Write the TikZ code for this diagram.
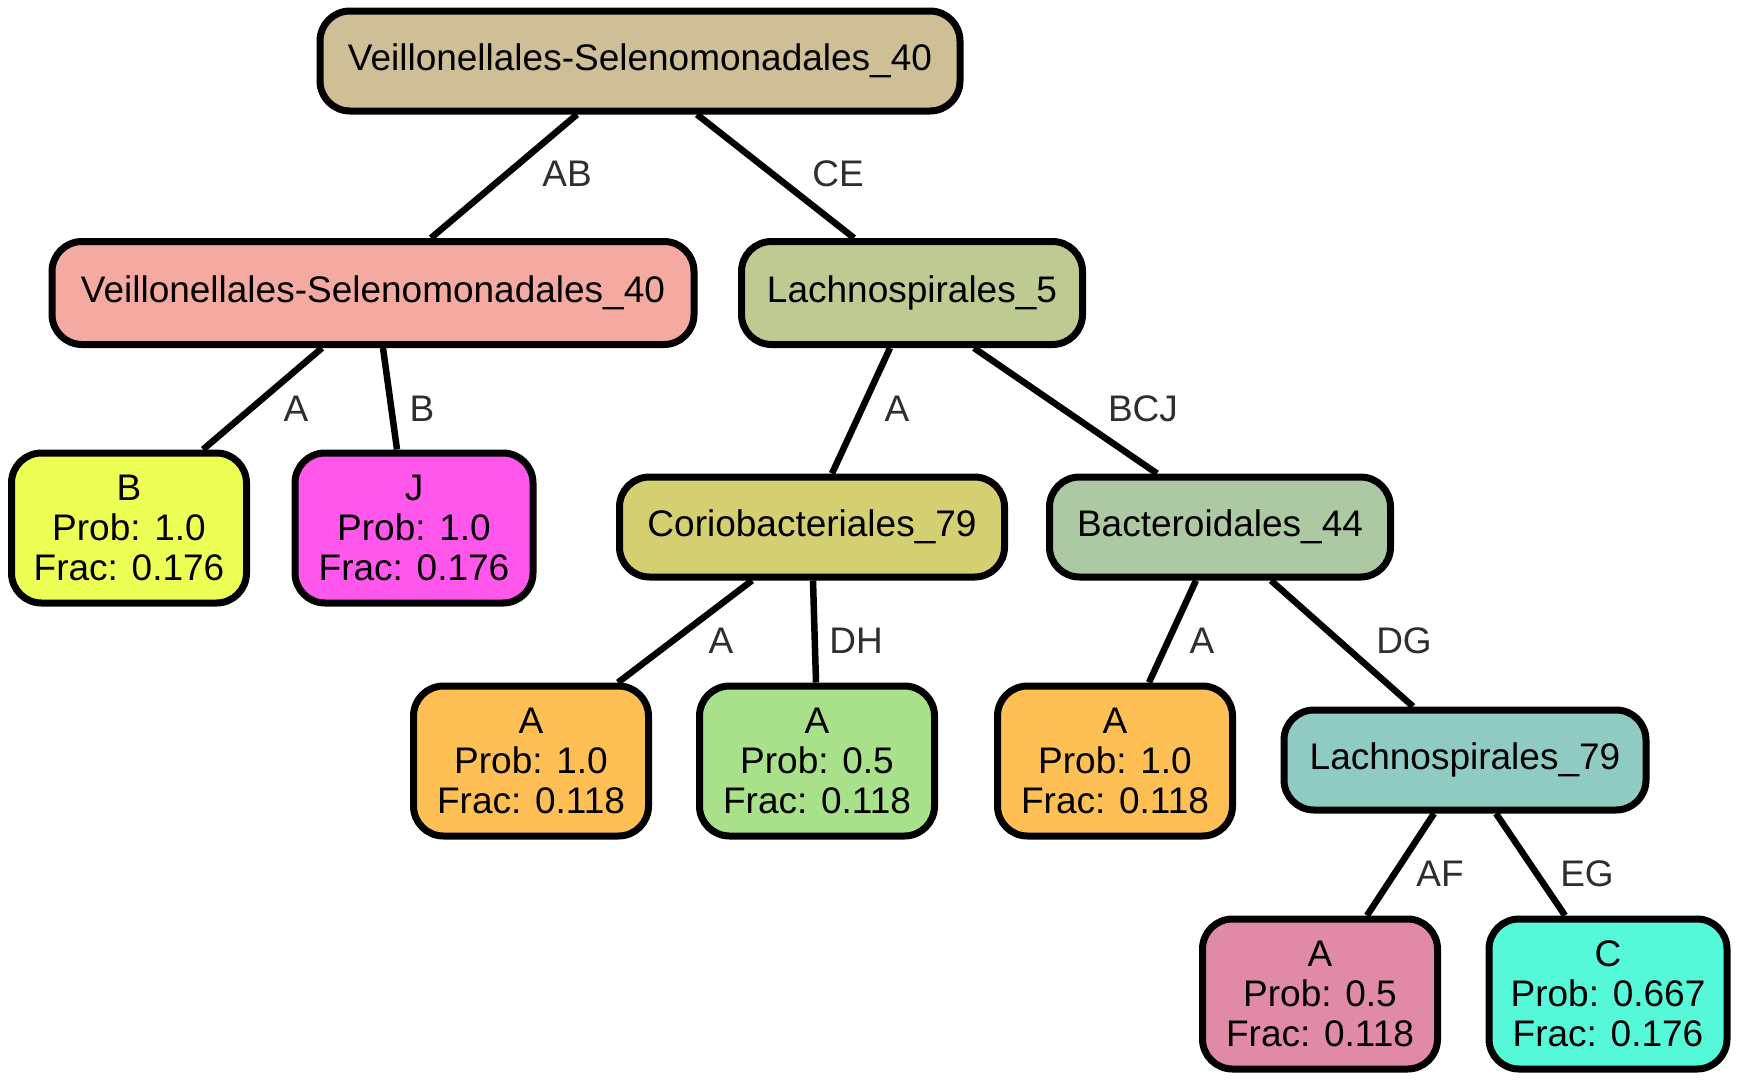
\documentclass[tikz,border=0pt]{standalone}
\usepackage{fontspec}
\setmainfont{Liberation Sans}
\usetikzlibrary{backgrounds}
\definecolor{cRoot}{HTML}{CFBF97}
\definecolor{cVSL}{HTML}{F4AAA0}
\definecolor{cLachF}{HTML}{BDCB92}
\definecolor{cB}{HTML}{EDFF55}
\definecolor{cJ}{HTML}{FF57EC}
\definecolor{cCorio}{HTML}{D4CF71}
\definecolor{cBact}{HTML}{ADC9A3}
\definecolor{cOrange}{HTML}{FEBF55}
\definecolor{cGreen}{HTML}{A9E08A}
\definecolor{cLachS}{HTML}{8FCBC2}
\definecolor{cPink}{HTML}{E08AA8}
\definecolor{cCyan}{HTML}{55F9D9}
\definecolor{labgray}{HTML}{2E2E2E}
\tikzset{
  box/.style={draw=black, line width=7pt, rounded corners=30pt, inner sep=0pt,
    align=center, font=\fontsize{37}{40}\selectfont, minimum height=100pt},
  leaf/.style={box, minimum width=235pt, minimum height=150pt},
  edge/.style={draw=black, line width=6.5pt},
  elab/.style={text=labgray, font=\fontsize{37}{41}\selectfont, inner sep=0pt}
}
\begin{document}
\begin{tikzpicture}[x=1pt,y=-1pt]
\useasboundingbox (0,0) rectangle (1740,1079);
\node[box, fill=cRoot, minimum width=640pt] (root) at (640,61) {Veillonellales-Selenomonadales\_40};
\node[box, fill=cVSL, minimum width=642pt, minimum height=103pt] (vsl) at (373,293) {Veillonellales-Selenomonadales\_40};
\node[box, fill=cLachF, minimum width=341pt, minimum height=103pt] (lach5) at (912,293) {Lachnospirales\_5};
\node[leaf, fill=cB] (nB) at (129,528) {B\\Prob: 1.0\\Frac: 0.176};
\node[leaf, fill=cJ, minimum width=238pt] (nJ) at (414,528) {J\\Prob: 1.0\\Frac: 0.176};
\node[box, fill=cCorio, minimum width=385pt] (corio) at (812,527) {Coriobacteriales\_79};
\node[box, fill=cBact, minimum width=341pt] (bact) at (1220,527) {Bacteroidales\_44};
\node[leaf, fill=cOrange] (aone) at (531,761) {A\\Prob: 1.0\\Frac: 0.118};
\node[leaf, fill=cGreen] (agreen) at (817,761) {A\\Prob: 0.5\\Frac: 0.118};
\node[leaf, fill=cOrange] (atwo) at (1115,761) {A\\Prob: 1.0\\Frac: 0.118};
\node[box, fill=cLachS, minimum width=362pt] (lach79) at (1465,760) {Lachnospirales\_79};
\node[leaf, fill=cPink] (apink) at (1320,994) {A\\Prob: 0.5\\Frac: 0.118};
\node[leaf, fill=cCyan, minimum width=238pt] (ccyan) at (1608,994) {C\\Prob: 0.667\\Frac: 0.176};
\begin{scope}[on background layer]
\draw[edge] ([xshift=-63pt]root.south) -- ([xshift=58pt]vsl.north);
\draw[edge] ([xshift=57pt]root.south) -- ([xshift=-58pt]lach5.north);
\draw[edge] ([xshift=-51pt]vsl.south) -- ([xshift=74pt]nB.north);
\draw[edge] ([xshift=10pt]vsl.south) -- ([xshift=-17pt]nJ.north);
\draw[edge] ([xshift=-22pt]lach5.south) -- ([xshift=20pt]corio.north);
\draw[edge] ([xshift=62pt]lach5.south) -- ([xshift=-63pt]bact.north);
\draw[edge] ([xshift=-60pt]corio.south) -- ([xshift=87pt]aone.north);
\draw[edge] ([xshift=1pt]corio.south) -- ([xshift=-1pt]agreen.north);
\draw[edge] ([xshift=-24pt]bact.south) -- ([xshift=34pt]atwo.north);
\draw[edge] ([xshift=51pt]bact.south) -- ([xshift=-52pt]lach79.north);
\draw[edge] ([xshift=-31pt]lach79.south) -- ([xshift=47pt]apink.north);
\draw[edge] ([xshift=31pt]lach79.south) -- ([xshift=-43pt]ccyan.north);
\end{scope}
\node[elab] (lAB) at (567,174) {AB};
\node[elab] (lCE) at (838,174) {CE};
\node[elab] (lA1) at (296,409) {A};
\node[elab] (lB1) at (422,409) {B};
\node[elab] (lA2) at (897,409) {A};
\node[elab] (lBCJ) at (1143,409) {BCJ};
\node[elab] (lA3) at (721,641) {A};
\node[elab] (lDH) at (856,641) {DH};
\node[elab] (lA4) at (1202,641) {A};
\node[elab] (lDG) at (1404,641) {DG};
\node[elab] (lAF) at (1440,874) {AF};
\node[elab] (lEG) at (1587,874) {EG};
\end{tikzpicture}
\end{document}
